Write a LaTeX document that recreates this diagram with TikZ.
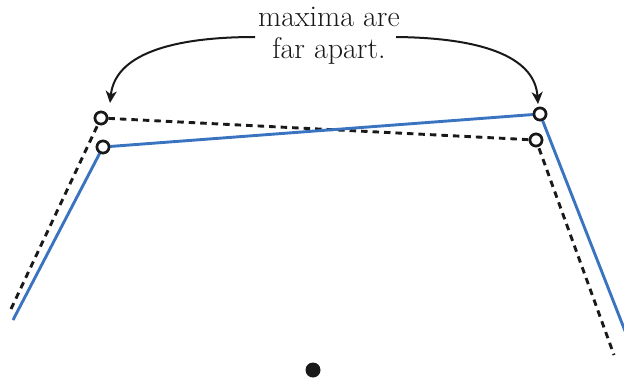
\documentclass[tikz,border=0pt]{standalone}
\usetikzlibrary{arrows.meta}
\definecolor{lineblue}{RGB}{58,116,192}
\definecolor{ink}{RGB}{25,25,25}
\tikzset{
  blueline/.style={draw=lineblue, line width=2.9pt},
  dashline/.style={draw=ink, line width=2.9pt, dash pattern=on 6.5pt off 5pt},
  vtx/.style={circle, draw=ink, fill=white, line width=2.6pt, inner sep=0pt, minimum size=12pt},
  callout/.style={draw=ink, line width=2pt, -{Stealth[length=12pt,width=11pt,inset=3.5pt]}},
  label/.style={font=\fontsize{30}{32}\selectfont, align=center, text=ink, inner sep=2pt}
}
\begin{document}
\begin{tikzpicture}[x=1pt,y=-1pt]
\useasboundingbox (0,0) rectangle (624,381);
% end points
\coordinate (b0) at (13,320);
\coordinate (b3) at (627,336);
\coordinate (d0) at (11,309);
\coordinate (d3) at (614,355);
% vertices
\node[vtx] (b1) at (103,147) {};
\node[vtx] (b2) at (540,114) {};
\node[vtx] (d1) at (101,118) {};
\node[vtx] (d2) at (536,140) {};
% lines
\draw[dashline] (d0) -- (d1.center) -- (d2.center) -- (d3);
\draw[blueline] (b0) -- (b1.center) -- (b2.center) -- (b3);
% redraw vertices on top
\node[vtx] at (b1) {};
\node[vtx] at (b2) {};
\node[vtx] at (d1) {};
\node[vtx] at (d2) {};
% text
\node[label] (txt) at (329,36) {maxima are\\far apart.};
\coordinate (la) at (110,103);
\coordinate (ra) at (538,104);
\draw[callout] (255,37) .. controls (170,37) and (115,55) .. (la);
\draw[callout] (396,37) .. controls (490,38) and (535,60) .. (ra);
% dot
\node[circle, fill=ink, inner sep=0pt, minimum size=15pt] (dot) at (313,370) {};
\end{tikzpicture}
\end{document}
